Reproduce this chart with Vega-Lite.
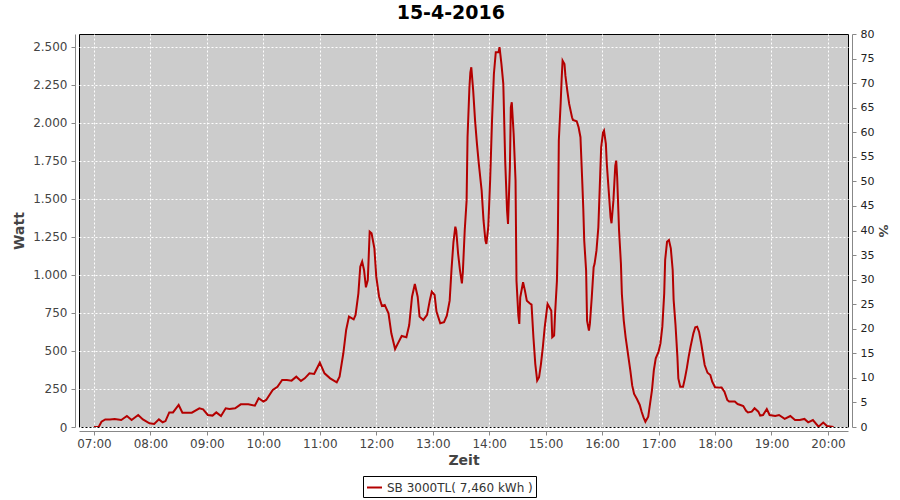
{
  "$schema": "https://vega.github.io/schema/vega-lite/v6.json",
  "autosize": {"type": "none"},
  "width": 769,
  "height": 393,
  "padding": {"left": 79, "top": 34, "right": 52, "bottom": 73},
  "background": "white",
  "title": {"text": "15-4-2016", "fontSize": 19, "fontWeight": "bold", "color": "#000", "font": "DejaVu Sans", "anchor": "middle", "frame": "bounds", "offset": 5},
  "config": {
    "font": "DejaVu Sans",
    "locale": {"number": {"decimal": ",", "thousands": ".", "grouping": [3], "currency": ["", " €"]}},
    "view": {"fill": "#cccccc", "stroke": "#000000", "strokeWidth": 1},
    "axis": {"labelFont": "DejaVu Sans", "titleFont": "DejaVu Sans", "labelFontSize": 12, "labelColor": "#444444", "titleColor": "#444444", "titleFontSize": 14, "titleFontWeight": "bold", "domainColor": "#888888", "tickColor": "#888888", "tickSize": 4, "gridColor": "#ffffff", "gridDash": [2, 2], "gridWidth": 1, "gridOpacity": 1}
  },
  "datasets": {
    "watt": [
      {"t":"07:00","w":0},{"t":"07:05","w":0},{"t":"07:08","w":35},{"t":"07:12","w":50},{"t":"07:17","w":50},{"t":"07:22","w":53},{"t":"07:29","w":46},{"t":"07:35","w":72},{"t":"07:40","w":46},{"t":"07:47","w":79},{"t":"07:52","w":50},{"t":"07:59","w":24},
      {"t":"08:04","w":20},{"t":"08:09","w":50},{"t":"08:13","w":31},{"t":"08:16","w":39},{"t":"08:20","w":96},{"t":"08:24","w":96},{"t":"08:30","w":145},{"t":"08:34","w":94},{"t":"08:44","w":94},{"t":"08:52","w":123},{"t":"08:56","w":116},
      {"t":"09:01","w":79},{"t":"09:06","w":75},{"t":"09:10","w":96},{"t":"09:15","w":72},{"t":"09:20","w":123},{"t":"09:24","w":118},{"t":"09:30","w":123},{"t":"09:36","w":149},{"t":"09:44","w":149},{"t":"09:51","w":140},{"t":"09:55","w":189},
      {"t":"10:00","w":167},{"t":"10:03","w":178},{"t":"10:10","w":243},{"t":"10:15","w":265},{"t":"10:20","w":309},{"t":"10:25","w":309},{"t":"10:30","w":305},{"t":"10:35","w":331},{"t":"10:40","w":303},{"t":"10:44","w":320},{"t":"10:49","w":353},{"t":"10:54","w":349},
      {"t":"11:00","w":423},{"t":"11:05","w":353},{"t":"11:11","w":320},{"t":"11:18","w":294},{"t":"11:21","w":331},{"t":"11:25","w":485},{"t":"11:28","w":638},{"t":"11:31","w":726},{"t":"11:36","w":708},{"t":"11:38","w":737},{"t":"11:41","w":879},{"t":"11:43","w":1055},{"t":"11:45","w":1088},{"t":"11:47","w":1033},{"t":"11:49","w":919},{"t":"11:51","w":967},{"t":"11:53","w":1285},{"t":"11:55","w":1274},{"t":"11:58","w":1175},
      {"t":"12:00","w":989},{"t":"12:03","w":857},{"t":"12:06","w":796},{"t":"12:09","w":803},{"t":"12:13","w":748},{"t":"12:16","w":616},{"t":"12:20","w":513},{"t":"12:23","w":550},{"t":"12:27","w":599},{"t":"12:32","w":590},{"t":"12:35","w":671},{"t":"12:38","w":857},{"t":"12:41","w":941},{"t":"12:44","w":857},{"t":"12:46","w":726},{"t":"12:50","w":704},{"t":"12:54","w":737},{"t":"12:57","w":836},{"t":"12:59","w":890},
      {"t":"13:02","w":868},{"t":"13:04","w":759},{"t":"13:08","w":682},{"t":"13:12","w":689},{"t":"13:15","w":732},{"t":"13:18","w":831},{"t":"13:20","w":1040},{"t":"13:22","w":1215},{"t":"13:24","w":1318},{"t":"13:25","w":1292},{"t":"13:27","w":1138},{"t":"13:29","w":1029},{"t":"13:31","w":945},{"t":"13:32","w":1018},{"t":"13:34","w":1292},{"t":"13:36","w":1489},{"t":"13:37","w":1906},{"t":"13:39","w":2235},{"t":"13:40","w":2333},{"t":"13:41","w":2366},{"t":"13:43","w":2213},{"t":"13:45","w":2015},{"t":"13:47","w":1862},{"t":"13:49","w":1730},{"t":"13:52","w":1555},{"t":"13:54","w":1357},{"t":"13:56","w":1226},{"t":"13:57","w":1204},{"t":"13:59","w":1314},
      {"t":"14:01","w":1621},{"t":"14:03","w":2015},{"t":"14:05","w":2322},{"t":"14:07","w":2465},{"t":"14:10","w":2465},{"t":"14:11","w":2498},{"t":"14:13","w":2388},{"t":"14:15","w":2257},{"t":"14:17","w":1752},{"t":"14:19","w":1423},{"t":"14:20","w":1336},{"t":"14:22","w":1708},{"t":"14:23","w":2103},{"t":"14:24","w":2136},{"t":"14:26","w":1928},{"t":"14:28","w":1621},{"t":"14:29","w":963},{"t":"14:31","w":732},{"t":"14:32","w":678},{"t":"14:33","w":853},{"t":"14:36","w":952},{"t":"14:38","w":897},{"t":"14:40","w":831},{"t":"14:43","w":814},{"t":"14:45","w":805},{"t":"14:47","w":590},{"t":"14:49","w":414},{"t":"14:51","w":305},{"t":"14:53","w":327},{"t":"14:55","w":414},{"t":"14:57","w":524},{"t":"14:59","w":656},
      {"t":"15:02","w":809},{"t":"15:04","w":787},{"t":"15:06","w":765},{"t":"15:07","w":590},{"t":"15:09","w":601},{"t":"15:10","w":743},{"t":"15:12","w":963},{"t":"15:13","w":1270},{"t":"15:14","w":1884},{"t":"15:16","w":2136},{"t":"15:17","w":2289},{"t":"15:18","w":2410},{"t":"15:20","w":2388},{"t":"15:21","w":2311},{"t":"15:23","w":2213},{"t":"15:25","w":2125},{"t":"15:28","w":2037},{"t":"15:29","w":2020},{"t":"15:33","w":2011},{"t":"15:35","w":1972},{"t":"15:37","w":1906},{"t":"15:38","w":1752},{"t":"15:39","w":1599},{"t":"15:40","w":1434},{"t":"15:41","w":1226},{"t":"15:43","w":1029},{"t":"15:44","w":700},{"t":"15:46","w":634},{"t":"15:47","w":678},{"t":"15:49","w":853},{"t":"15:51","w":1051},{"t":"15:52","w":1073},{"t":"15:54","w":1160},{"t":"15:56","w":1314},{"t":"15:58","w":1665},{"t":"15:59","w":1840},
      {"t":"16:01","w":1939},{"t":"16:02","w":1950},{"t":"16:04","w":1862},{"t":"16:05","w":1730},{"t":"16:07","w":1555},{"t":"16:09","w":1379},{"t":"16:10","w":1340},{"t":"16:12","w":1489},{"t":"16:14","w":1719},{"t":"16:15","w":1752},{"t":"16:16","w":1643},{"t":"16:18","w":1292},{"t":"16:20","w":1073},{"t":"16:21","w":875},{"t":"16:23","w":700},{"t":"16:25","w":590},{"t":"16:27","w":502},{"t":"16:30","w":371},{"t":"16:32","w":272},{"t":"16:34","w":217},{"t":"16:37","w":184},{"t":"16:40","w":145},{"t":"16:42","w":100},{"t":"16:44","w":64},{"t":"16:46","w":35},{"t":"16:49","w":68},{"t":"16:51","w":156},{"t":"16:53","w":243},{"t":"16:55","w":375},{"t":"16:57","w":452},
      {"t":"17:00","w":496},{"t":"17:02","w":550},{"t":"17:04","w":660},{"t":"17:06","w":879},{"t":"17:07","w":1099},{"t":"17:09","w":1219},{"t":"17:11","w":1230},{"t":"17:13","w":1175},{"t":"17:15","w":1033},{"t":"17:16","w":836},{"t":"17:18","w":671},{"t":"17:20","w":463},{"t":"17:21","w":320},{"t":"17:23","w":265},{"t":"17:26","w":265},{"t":"17:28","w":320},{"t":"17:30","w":386},{"t":"17:32","w":463},{"t":"17:34","w":529},{"t":"17:37","w":616},{"t":"17:39","w":656},{"t":"17:41","w":660},{"t":"17:43","w":627},{"t":"17:45","w":561},{"t":"17:47","w":485},{"t":"17:49","w":408},{"t":"17:52","w":357},{"t":"17:55","w":342},{"t":"17:57","w":298},
      {"t":"18:00","w":261},{"t":"18:05","w":259},{"t":"18:07","w":259},{"t":"18:10","w":232},{"t":"18:13","w":178},{"t":"18:15","w":167},{"t":"18:21","w":167},{"t":"18:24","w":151},{"t":"18:27","w":145},{"t":"18:30","w":138},{"t":"18:33","w":107},{"t":"18:35","w":96},{"t":"18:39","w":101},{"t":"18:42","w":123},{"t":"18:46","w":101},{"t":"18:48","w":75},{"t":"18:51","w":79},{"t":"18:55","w":118},{"t":"18:58","w":79},
      {"t":"19:04","w":72},{"t":"19:08","w":79},{"t":"19:14","w":53},{"t":"19:20","w":72},{"t":"19:25","w":46},{"t":"19:30","w":46},{"t":"19:35","w":53},{"t":"19:39","w":31},{"t":"19:44","w":46},{"t":"19:50","w":2},{"t":"19:55","w":29},{"t":"19:59","w":7},{"t":"20:06","w":0}
    ],
    "pct": [{"p": 0}, {"p": 80}]
  },
  "layer": [
    {
      "data": {"name": "watt", "format": {"parse": {"t": "date:'%H:%M'"}}},
      "mark": {"type": "line", "strokeWidth": 2, "clip": true},
      "encoding": {
        "x": {
          "field": "t", "type": "temporal",
          "scale": {"domain": [{"year": 1900, "month": 1, "date": 1, "hours": 6, "minutes": 44, "seconds": 6}, {"year": 1900, "month": 1, "date": 1, "hours": 20, "minutes": 21, "seconds": 18}], "nice": false},
          "axis": {"title": "Zeit", "format": "%H:%M", "offset": 4, "grid": true, "labelFlush": false, "labelOverlap": false, "labelPadding": 3, "titlePadding": 4,
            "values": [
              {"year": 1900, "month": 1, "date": 1, "hours": 7},
              {"year": 1900, "month": 1, "date": 1, "hours": 8},
              {"year": 1900, "month": 1, "date": 1, "hours": 9},
              {"year": 1900, "month": 1, "date": 1, "hours": 10},
              {"year": 1900, "month": 1, "date": 1, "hours": 11},
              {"year": 1900, "month": 1, "date": 1, "hours": 12},
              {"year": 1900, "month": 1, "date": 1, "hours": 13},
              {"year": 1900, "month": 1, "date": 1, "hours": 14},
              {"year": 1900, "month": 1, "date": 1, "hours": 15},
              {"year": 1900, "month": 1, "date": 1, "hours": 16},
              {"year": 1900, "month": 1, "date": 1, "hours": 17},
              {"year": 1900, "month": 1, "date": 1, "hours": 18},
              {"year": 1900, "month": 1, "date": 1, "hours": 19},
              {"year": 1900, "month": 1, "date": 1, "hours": 20}
            ]}
        },
        "y": {
          "field": "w", "type": "quantitative",
          "scale": {"domain": [0, 2585], "nice": false, "zero": true},
          "axis": {"title": "Watt", "orient": "left", "offset": 4, "grid": true, "format": ",d", "values": [0, 250, 500, 750, 1000, 1250, 1500, 1750, 2000, 2250, 2500], "labelPadding": 4, "titlePadding": 6}
        },
        "color": {
          "datum": "SB 3000TL( 7,460 kWh )",
          "type": "nominal",
          "scale": {"range": ["#b40000"]},
          "legend": {"title": null, "orient": "none", "legendX": 284, "legendY": 442, "symbolType": "stroke", "symbolSize": 225, "symbolStrokeWidth": 2, "labelFontSize": 12, "labelColor": "#333333", "labelFont": "DejaVu Sans", "strokeColor": "#000000", "fillColor": "#ffffff", "padding": 3}
        }
      }
    },
    {
      "data": {"name": "pct"},
      "mark": {"type": "rule", "opacity": 0},
      "encoding": {
        "y": {
          "field": "p", "type": "quantitative",
          "scale": {"domain": [0, 80], "nice": false},
          "axis": {"title": "%", "orient": "right", "offset": 4, "grid": false, "values": [0, 5, 10, 15, 20, 25, 30, 35, 40, 45, 50, 55, 60, 65, 70, 75, 80], "labelColor": "#222222", "labelFontSize": 11, "labelPadding": 4, "titlePadding": 2, "titleFontSize": 13}
        }
      }
    }
  ],
  "resolve": {"scale": {"y": "independent"}}
}
